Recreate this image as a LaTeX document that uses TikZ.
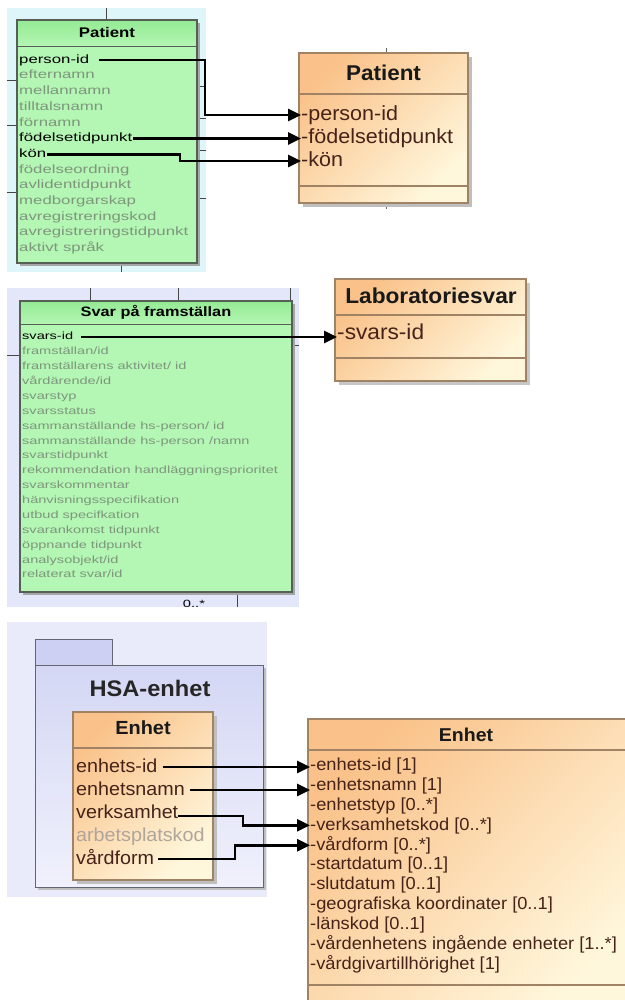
\documentclass[tikz,border=0pt]{standalone}
\usepackage{fontspec}
\setmainfont{Liberation Sans}
\newfontfamily\wideF[FakeStretch=1.4]{Liberation Sans}
\newfontfamily\wideT[FakeStretch=1.2]{Liberation Sans}
\newfontfamily\normF[FakeStretch=1.05]{Liberation Sans}
\usetikzlibrary{arrows.meta}
\definecolor{bgA}{RGB}{222,245,250}
\definecolor{bgB}{RGB}{228,230,250}
\definecolor{bgC}{RGB}{234,235,250}
\definecolor{gFill}{RGB}{180,246,180}
\definecolor{gHead}{RGB}{148,234,148}
\definecolor{gLine}{RGB}{85,95,85}
\definecolor{gGrey}{RGB}{125,150,125}
\definecolor{oA}{RGB}{250,194,138}
\definecolor{oB}{RGB}{255,247,220}
\definecolor{oLine}{RGB}{160,130,100}
\definecolor{oText}{RGB}{70,35,25}
\definecolor{oGrey}{RGB}{175,165,155}
\definecolor{pkA}{RGB}{205,208,242}
\definecolor{pkB}{RGB}{240,241,252}
\definecolor{pkLine}{RGB}{100,100,115}
\definecolor{gridL}{RGB}{70,70,70}
\begin{document}
\begin{tikzpicture}[x=1pt,y=-1pt,
  growP/.style={anchor=west, inner sep=0pt, text height=9pt, text depth=2.4pt, font=\wideF\fontsize{12}{14}\selectfont, text=gGrey},
  growS/.style={anchor=west, inner sep=0pt, text height=7.8pt, text depth=2.1pt, font=\wideF\fontsize{10.4}{12}\selectfont, text=gGrey},
  gtitle/.style={inner sep=0pt, font=\wideT\bfseries\fontsize{14}{16}\selectfont},
  otitle/.style={inner sep=0pt, font=\normF\bfseries\fontsize{21.4}{24}\selectfont, text=black!90},
  orowL/.style={anchor=west, inner sep=0pt, text height=15.5pt, text depth=4.2pt, font=\normF\fontsize{20.5}{24}\selectfont, text=oText},
  erow/.style={anchor=west, inner sep=0pt, text height=14pt, text depth=3.8pt, font=\normF\fontsize{18.8}{22}\selectfont, text=oText},
  rrow/.style={anchor=west, inner sep=0pt, text height=13pt, text depth=3.5pt, font=\normF\fontsize{17.4}{20}\selectfont, text=oText},
  etitle/.style={inner sep=0pt, font=\normF\bfseries\fontsize{18.6}{22}\selectfont, text=black!90},
  gridln/.style={gridL, line width=0.8pt},
  gbox/.style={draw=gLine, line width=1.3pt},
  obox/.style={draw=oLine, line width=1.2pt},
  oshade/.style={top color=oA, bottom color=oB, shading angle=45},
  conn/.style={line width=2.7pt, -{Triangle[length=13pt,width=12pt]}}
]
\useasboundingbox (0,0) rectangle (624,1000);
\fill[white] (0,0) rectangle (624,1000);

% ---------------- Panel 1 ----------------
\fill[bgA] (7,8) rectangle (206,272);
\draw[gridln] (106,8) -- (106,20);
\draw[gridln] (121,263) -- (121,272);
\draw[gridln] (7,80) -- (17,80);
\draw[gridln] (7,125) -- (17,125);
\draw[gridln] (7,192) -- (17,192);
\draw[gridln] (197,86) -- (206,86);
\draw[gridln] (197,118) -- (206,118);
\draw[gridln] (197,150) -- (206,150);
\draw[gridln] (197,198) -- (206,198);
\fill[black!35] (20,23) rectangle (200,266);
\fill[gFill] (17,20) rectangle (197,263);
\shade[top color=gHead, bottom color=gFill] (17,20) rectangle (197,47);
\draw[gbox] (17,20) rectangle (197,263);
\draw[gLine, line width=1pt] (17,47) -- (197,47);
\node (gPatT) [gtitle] at (107,32) {Patient};
\node (gp1) [growP, text=black] at (19,60) {person-id};
\node (gp2) [growP] at (19,75.7) {efternamn};
\node (gp3) [growP] at (19,91.4) {mellannamn};
\node (gp4) [growP] at (19,107.1) {tilltalsnamn};
\node (gp5) [growP] at (19,122.8) {förnamn};
\node (gp6) [growP, text=black] at (19,138.5) {födelsetidpunkt};
\node (gp7) [growP, text=black] at (19,154.2) {kön};
\node (gp8) [growP] at (19,169.9) {födelseordning};
\node (gp9) [growP] at (19,185.6) {avlidentidpunkt};
\node (gp10) [growP] at (19,201.3) {medborgarskap};
\node (gp11) [growP] at (19,217) {avregistreringskod};
\node (gp12) [growP] at (19,232.7) {avregistreringstidpunkt};
\node (gp13) [growP] at (19,248.4) {aktivt språk};

% right Patient
\draw[gridln, black!60] (386,48) -- (386,53);
\draw[gridln, black!60] (386,203) -- (386,209);
\fill[black!25] (303,57) rectangle (472,207);
\shade[oshade] (299,53) rectangle (468,203);
\draw[obox] (299,53) rectangle (468,203);
\draw[oLine, line width=1.2pt] (299,94) -- (468,94);
\draw[oLine, line width=1.2pt] (299,186) -- (468,186);
\node (rPatT) [otitle] at (383.5,73) {Patient};
\node (rp1) [orowL] at (301,115) {-person-id};
\node (rp2) [orowL] at (301,138) {-födelsetidpunkt};
\node (rp3) [orowL] at (301,161) {-kön};

\coordinate (kA) at (205,0);
\coordinate (kB) at (180,0);
\draw[conn] ([xshift=10pt]gp1.east) -| (kA |- rp1.west) -- (rp1.west);
\draw[conn] ([xshift=1pt]gp6.east) -- (gp6.east -| rp2.west);
\draw[conn] ([xshift=1pt]gp7.east) -| (kB |- rp3.west) -- (rp3.west);

% ---------------- Panel 2 ----------------
\fill[bgB] (7,288) rectangle (299,607);
\draw[gridln] (90,288) -- (90,301);
\draw[gridln] (178,288) -- (178,301);
\draw[gridln] (290,288) -- (290,301);
\draw[gridln] (7,355) -- (20,355);
\draw[gridln] (292,345) -- (299,345);
\draw[gridln] (237,592) -- (237,607);
\fill[black!35] (23,304) rectangle (295,595);
\fill[gFill] (20,301) rectangle (292,592);
\shade[top color=gHead, bottom color=gFill] (20,301) rectangle (292,324);
\draw[gbox] (20,301) rectangle (292,592);
\draw[gLine, line width=1pt] (20,324) -- (292,324);
\node (svT) [gtitle, font=\wideT\bfseries\fontsize{13.6}{16}\selectfont] at (156,312.5) {Svar på framställan};
\node (sv1) [growS, text=black] at (22,337) {svars-id};
\foreach \t [count=\i from 1] in {framställan/id, framställarens aktivitet/ id, vårdärende/id, svarstyp, svarsstatus, sammanställande hs-person/ id, sammanställande hs-person /namn, svarstidpunkt, rekommendation handläggningsprioritet, svarskommentar, hänvisningsspecifikation, utbud specifkation, svarankomst tidpunkt, öppnande tidpunkt, analysobjekt/id, relaterat svar/id}
  \node (svg\i) [growS] at (22,{337+14.88*\i}) {\t};
\begin{scope}
\clip (7,288) rectangle (299,607);
\node (mult) [anchor=base, inner sep=0pt, font=\wideF\fontsize{10.5}{12}\selectfont] at (194,607) {0..*};
\end{scope}

% Laboratoriesvar
\fill[black!22] (339,283) rectangle (530,385);
\shade[oshade] (335,279) rectangle (526,381);
\draw[obox] (335,279) rectangle (526,381);
\draw[oLine, line width=1.2pt] (335,315) -- (526,315);
\draw[oLine, line width=1.2pt] (335,358) -- (526,358);
\node (labT) [otitle, font=\normF\bfseries\fontsize{21.6}{24}\selectfont] at (431,296) {Laboratoriesvar};
\node (lab1) [orowL, font=\normF\fontsize{21.6}{24}\selectfont] at (337,334) {-svars-id};
\draw[conn] ([xshift=8pt]sv1.east) -- (sv1.east -| lab1.west);

% ---------------- Panel 3 ----------------
\fill[bgC] (7,622) rectangle (267,897);
\fill[black!25] (38,668) rectangle (266,890);
\fill[pkA] (35,639) rectangle (112,665);
\draw[pkLine, line width=1pt] (35,665) -- (35,639) -- (112,639) -- (112,665);
\shade[top color=pkA!80!pkB, bottom color=pkB] (35,665) rectangle (263,887);
\draw[pkLine, line width=1pt] (35,665) rectangle (263,887);
\node (hsaT) [inner sep=0pt, font=\normF\bfseries\fontsize{22.5}{26}\selectfont, text=black!85] at (150,688) {HSA-enhet};
\fill[black!25] (77,716) rectangle (217,884);
\shade[oshade] (73,712) rectangle (213,880);
\draw[obox] (73,712) rectangle (213,880);
\draw[oLine, line width=1.2pt] (73,748) -- (213,748);
\node (eT) [etitle, font=\normF\bfseries\fontsize{19}{22}\selectfont] at (143,728) {Enhet};
\node (e1) [erow] at (76,767) {enhets-id};
\node (e2) [erow] at (76,790) {enhetsnamn};
\node (e3) [erow] at (76,813) {verksamhet};
\node (e4) [erow, text=oGrey] at (76,836) {arbetsplatskod};
\node (e5) [erow] at (76,859) {vårdform};

% right Enhet
\shade[oshade] (308,719) rectangle (640,1010);
\draw[obox] (640,1005) -- (308,1005) -- (308,719) -- (640,719);
\draw[oLine, line width=1.2pt] (308,750) -- (630,750);
\draw[oLine, line width=1.2pt] (308,985) -- (630,985);
\node (reT) [etitle] at (466,735) {Enhet};
\foreach \t [count=\i from 1] in {-enhets-id [1], -enhetsnamn [1], -enhetstyp [0..*], -verksamhetskod [0..*], -vårdform [0..*], -startdatum [0..1], -slutdatum [0..1], -geografiska koordinater [0..1], -länskod [0..1], -vårdenhetens ingående enheter [1..*], -vårdgivartillhörighet [1]}
  \node (re\i) [rrow] at (310,{745.5+19.95*\i}) {\t};

\coordinate (kC) at (243,0);
\coordinate (kD) at (235,0);
\draw[conn] ([xshift=5pt]e1.east) -- (e1.east -| re1.west);
\draw[conn] ([xshift=5pt]e2.east) -- (e2.east -| re2.west);
\draw[conn] ([xshift=0pt,yshift=-3pt]e3.east) -| (kC |- re4.west) -- (re4.west);
\draw[conn] ([xshift=4pt]e5.east) -| (kD |- re5.west) -- (re5.west);
\end{tikzpicture}
\end{document}
